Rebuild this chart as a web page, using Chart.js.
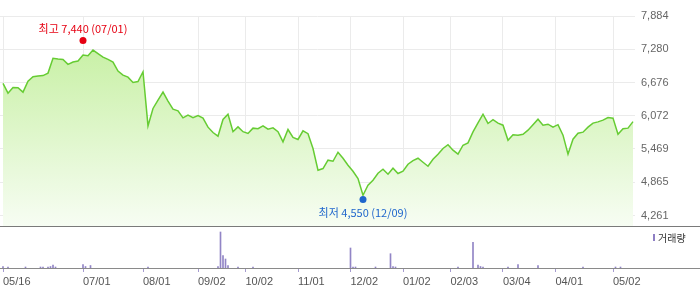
<!DOCTYPE html>
<html>
<head>
<meta charset="utf-8">
<script src="https://cdn.jsdelivr.net/npm/chart.js@4.4.1/dist/chart.umd.min.js"></script>
<style>
  html, body { margin: 0; padding: 0; background: #fff; }
  #wrap { position: relative; width: 700px; height: 289px; }
  #priceBox { position: absolute; left: 0; top: 0; width: 700px; height: 227px; }
  #volBox { position: absolute; left: 0; top: 227px; width: 700px; height: 62px; }
</style>
</head>
<body>
<div id="wrap">
  <div id="priceBox"><canvas id="priceChart"></canvas></div>
  <div id="volBox"><canvas id="volChart"></canvas></div>
</div>
<script>
// closing prices, one every 2 trading days starting 05/16
const closes = [
  6660, 6483, 6585, 6580, 6501, 6702, 6782, 6793, 6802, 6847,
  7115, 7102, 7094, 7005, 7047, 7065, 7175, 7162, 7266, 7202,
  7138, 7096, 7047, 6884, 6811, 6774, 6678, 6693, 6871, 5889,
  6205, 6356, 6502, 6338, 6192, 6161, 6034, 6083, 6038, 6074,
  6029, 5865, 5768, 5701, 6005, 6101, 5783, 5870, 5783, 5750,
  5847, 5838, 5889, 5829, 5852, 5783, 5598, 5823, 5678, 5641,
  5798, 5747, 5477, 5083, 5114, 5265, 5246, 5410, 5301, 5174,
  5065, 4932, 4628, 4810, 4901, 5028, 5101, 5010, 5119, 5023,
  5065, 5192, 5259, 5301, 5228, 5155, 5283, 5374, 5477, 5547,
  5447, 5374, 5537, 5579, 5779, 5943, 6101, 5932, 6000, 5938,
  5901, 5628, 5728, 5719, 5737, 5810, 5910, 6010, 5901, 5919,
  5865, 5910, 5720, 5374, 5647, 5756, 5774, 5865, 5938, 5961,
  5992, 6041, 6029, 5737, 5838, 5847, 5965
];
const DAY_STEP = 2;

// volume (thousand shares) on the trading days that show a bar
const volDays = [0, 2, 9, 15, 16, 18, 19, 20, 21, 32, 33, 35, 58, 86, 87, 88, 89, 90, 94, 100,
  139, 140, 141, 149, 155, 156, 157, 182, 188, 190, 191, 192, 202, 206, 214, 232, 245, 247];
const volumes = [150, 100, 100, 100, 100, 100, 150, 300, 100, 350, 150, 250, 100, 150, 3600, 1230, 900, 230, 100, 100,
  2000, 100, 100, 100, 1430, 150, 100, 100, 2570, 300, 150, 100, 100, 330, 230, 100, 100, 100];

const tickDays = [0, 32, 56, 78, 97, 118, 139, 160, 179, 200, 221, 244];
const tickLabels = ['05/16', '07/01', '08/01', '09/02', '10/02', '11/01', '12/02', '01/02', '02/03', '03/04', '04/01', '05/02'];
const priceTicks = [4261, 4865, 5469, 6072, 6676, 7280, 7884];

const highDay = 32, highValue = 7440, highDate = '07/01';
const lowDay = 144, lowValue = 4550, lowDate = '12/09';

const FONT = "'Liberation Sans', 'Noto Sans CJK KR', sans-serif";
const KFONT = "'Noto Sans CJK KR', 'Liberation Sans', sans-serif";
const lastDay = (closes.length - 1) * DAY_STEP;

function greenFill(ctx) {
  const chart = ctx.chart;
  const area = chart.chartArea;
  if (!area) return 'rgba(190,238,150,0.6)';
  const g = chart.ctx.createLinearGradient(0, area.top, 0, area.bottom);
  g.addColorStop(0, '#c0ee98');
  g.addColorStop(1, '#f7fdf3');
  return g;
}

// full-width rule under a panel
function rulePlugin(id, color) {
  return {
    id: id,
    afterDraw(chart) {
      const c = chart.ctx;
      const y = Math.round(chart.chartArea.bottom) + 0.5;
      c.save();
      c.strokeStyle = color;
      c.lineWidth = 1;
      c.beginPath();
      c.moveTo(0, y);
      c.lineTo(chart.width, y);
      c.stroke();
      c.restore();
    }
  };
}

const markLabels = {
  id: 'markLabels',
  afterDatasetsDraw(chart) {
    const c = chart.ctx;
    const hi = chart.getDatasetMeta(1).data[0];
    const lo = chart.getDatasetMeta(2).data[0];
    c.save();
    c.font = '11px ' + KFONT;
    c.textAlign = 'center';
    c.textBaseline = 'middle';
    c.fillStyle = '#e60012';
    c.fillText('최고 ' + highValue.toLocaleString('en-US') + ' (' + highDate + ')', hi.x, hi.y - 12);
    c.fillStyle = '#1f66cc';
    c.fillText('최저 ' + lowValue.toLocaleString('en-US') + ' (' + lowDate + ')', lo.x, lo.y + 13);
    c.restore();
  }
};

const volLegend = {
  id: 'volLegend',
  afterDraw(chart) {
    const c = chart.ctx;
    const x = chart.chartArea.right + 18;
    c.save();
    c.fillStyle = '#8e7fc4';
    c.fillRect(x, 7, 2, 7);
    c.fillStyle = '#333';
    c.font = '10px ' + KFONT;
    c.textBaseline = 'middle';
    c.fillText('거래량', x + 5, 11);
    c.restore();
  }
};

new Chart(document.getElementById('priceChart'), {
  type: 'line',
  data: {
    datasets: [
      {
        data: closes.map((v, i) => ({ x: i * DAY_STEP, y: v })),
        borderColor: '#66cc33',
        borderWidth: 1.5,
        pointRadius: 0,
        tension: 0,
        fill: 'start',
        backgroundColor: greenFill,
        order: 2
      },
      {
        data: [{ x: highDay, y: highValue }],
        showLine: false,
        pointRadius: 3.5,
        pointBorderWidth: 0,
        pointBackgroundColor: '#e60012',
        order: 0
      },
      {
        data: [{ x: lowDay, y: lowValue }],
        showLine: false,
        pointRadius: 3.5,
        pointBorderWidth: 0,
        pointBackgroundColor: '#1f66cc',
        order: 0
      }
    ]
  },
  options: {
    animation: false,
    responsive: true,
    maintainAspectRatio: false,
    devicePixelRatio: 1,
    layout: { autoPadding: false, padding: { top: 16, bottom: 1, left: 0, right: 0 } },
    plugins: { legend: { display: false }, tooltip: { enabled: false } },
    scales: {
      x: {
        type: 'linear',
        min: -1.2,
        max: lastDay + 0.8,
        afterBuildTicks: s => { s.ticks = tickDays.map(v => ({ value: v })); },
        afterFit: s => { s.height = 0; s.paddingLeft = 0; s.paddingRight = 0; },
        ticks: { display: false },
        grid: { color: '#ebebeb', drawTicks: false },
        border: { display: false }
      },
      y: {
        position: 'right',
        min: 4070,
        max: 7884,
        afterBuildTicks: s => { s.ticks = priceTicks.map(v => ({ value: v })); },
        afterFit: s => { s.width = 65; s.paddingTop = 0; s.paddingBottom = 0; },
        ticks: {
          padding: 6,
          color: '#666',
          font: { family: FONT, size: 11 },
          callback: v => v.toLocaleString('en-US')
        },
        grid: { color: '#ebebeb', drawTicks: false },
        border: { display: false }
      }
    }
  },
  plugins: [markLabels, rulePlugin('priceRule', '#7a7a7a')]
});

new Chart(document.getElementById('volChart'), {
  type: 'bar',
  data: {
    datasets: [{
      data: volDays.map((d, i) => ({ x: d, y: volumes[i] })),
      backgroundColor: '#9285c6',
      barThickness: 1,
      borderWidth: 0
    }]
  },
  options: {
    animation: false,
    responsive: true,
    maintainAspectRatio: false,
    devicePixelRatio: 1,
    layout: { autoPadding: false, padding: { top: 0, bottom: 1, left: 0, right: 65 } },
    plugins: { legend: { display: false }, tooltip: { enabled: false } },
    scales: {
      x: {
        type: 'linear',
        offset: false,
        min: -1.2,
        max: lastDay + 0.8,
        afterBuildTicks: s => { s.ticks = tickDays.map(v => ({ value: v })); },
        afterFit: s => { s.height = 20; s.paddingLeft = 0; s.paddingRight = 0; },
        grid: { offset: false, drawOnChartArea: false, drawTicks: true, tickLength: 4, color: '#a59bcf' },
        border: { display: false },
        ticks: {
          align: 'start',
          padding: 3,
          autoSkip: false,
          maxRotation: 0,
          color: '#555',
          font: { family: FONT, size: 11 },
          callback: (v, i) => tickLabels[i]
        }
      },
      y: { display: false, min: 0, max: 4100 }
    }
  },
  plugins: [volLegend, rulePlugin('volRule', '#8a8a8a')]
});
</script>
</body>
</html>
